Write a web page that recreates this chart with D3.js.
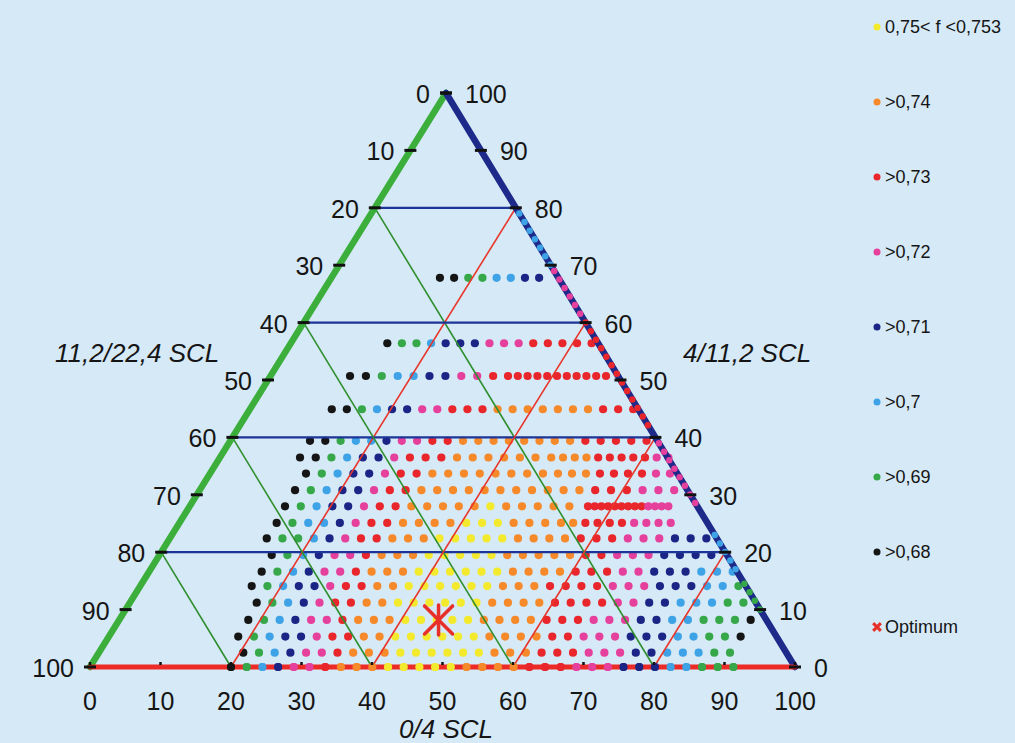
<!DOCTYPE html>
<html><head><meta charset="utf-8">
<script src="https://cdn.jsdelivr.net/npm/d3@7"></script>
<style>
body{margin:0;background:#d6e9f6;}
svg{display:block;}
text{font-family:"Liberation Sans",Arial,sans-serif;fill:#151515;}
</style>
</head><body><svg id="chart" width="1015" height="743"></svg>
<script>
// ---------------- data ----------------
const categoryLabels = ["0,75< f <0,753", ">0,74", ">0,73", ">0,72", ">0,71", ">0,7", ">0,69", ">0,68"];
const categoryCodes  = ["Y", "O", "R", "P", "N", "L", "G", "K"];
const axisTicks = [0, 10, 20, 30, 40, 50, 60, 70, 80, 90, 100];
const gridValues = [20, 40, 60, 80];
const axisTitles = ["11,2/22,4 SCL", "4/11,2 SCL", "0/4 SCL"];

// point rows: right-axis value (c), first bottom value (b), step in b, category codes
const rowC    = [67.8, 56.4, 50.7, 50.7, 44.9, 39.4, 36.5, 36.5, 33.7, 33.7, 30.8, 28.0, 28.0, 25.1, 25.1, 22.4, 19.5, 16.6, 14.1, 11.2, 8.2, 5.3, 2.5, 0];
const rowB0   = [15.40, 13.69, 11.28, 33.69, 11.62, 11.31, 11.36, 48.67, 13.62, 49.36, 13.53, 13.52, 56.5, 13.80, 54.13, 13.76, 15.93, 15.97, 15.82, 17.99, 18.31, 18.35, 20.48, 20.0];
const rowStep = [2.01, 2.07, 2.255, 1.39, 2.138, 2.17, 2.227, 1.66, 2.241, 1.986, 2.241, 2.241, 0.95, 2.241, 1.73, 2.227, 2.227, 2.227, 2.227, 2.227, 2.227, 2.227, 2.227, 2.227];
const rowCodes = [
  "KKGGLLNN",
  "KGGLNNNPPPRRRRR",
  "KKGLLNNPPR",
  "RRRRRRRRRRR",
  "KKGLNNPPRRROOOOOOORRR",
  "KKGLLNPPRROOOOOOOORRRRR",
  "KKGLNNPRRROOOOOOO",
  "OOORRRRRPP",
  "KGLNNPRROOOOOOOO",
  "OOORRRRPP",
  "KGLNNPRROOOOOOOOOOORRRPPP",
  "KGLNNPRROOOOOYOOOOO",
  "RRRRRRRRRPPPP",
  "KGLLNPRROOOOYYYOOO",
  "OORRRRPPPP",
  "KGGLNPRROOOYYYYYOOOORRRPPPNNN",
  "KGLNPPROOOYYYYYOOOOORRPPPNNNN",
  "KGLNPPROOOYYYYYYOOOORRRPPNNNLLL",
  "KGLNNPRROOYYYYYYOOORRRRPPPNNNLLG",
  "KGLNPRROOYYYYYYOOOORRRRPPNNLLLGG",
  "KGLNPPROOOYYYYYOOOORRRPPPNNLLGGGK",
  "KGLNNPRROOYYYYYYOOOORRPPPNNNLLGGK",
  "KGLNPPROOOYYYYYYOOORRRPPPNNLLLGG",
  "KGLNPPROOOYYYYYOOOORRRPPPNNNLLGGG"
];

// points lying on the right edge (b + c = 100): c range and category
const edgeFrom  = [79, 69, 60, 39, 23, 14.5];
const edgeTo    = [70, 61, 42, 28, 16, 10];
const edgeCodes = ["L", "P", "R", "P", "L", "G"];

const optimumB = 45.3, optimumC = 8.2;

// ---------------- styles ----------------
const colorOf = {Y:"#f3ea2e", O:"#f6892a", R:"#e8262b", P:"#e5409c", N:"#1b2585", L:"#3ea3e6", G:"#36a84a", K:"#151515"};

// ---------------- scales ----------------
const svg = d3.select("#chart");
const xScale = d3.scaleLinear().domain([0, 100]).range([90, 795]);   // bottom axis
const yScale = d3.scaleLinear().domain([0, 100]).range([667, 93]);   // right axis height
const lean   = d3.scaleLinear().domain([0, 100]).range([0, 356]);    // horizontal lean toward apex
const P = (b, c) => [xScale(b) + lean(c), yScale(c)];

svg.append("rect").attr("width", 1015).attr("height", 743).attr("fill", "#d6e9f6");

// ---------------- dots ----------------
const dots = [];
rowC.forEach((c, i) => {
  rowCodes[i].split("").forEach((code, k) => {
    dots.push({b: rowB0[i] + k * rowStep[i], c: c, code: code});
  });
});
const gDots = svg.append("g");
gDots.selectAll("circle").data(dots).join("circle")
  .attr("cx", d => P(d.b, d.c)[0])
  .attr("cy", d => P(d.b, d.c)[1])
  .attr("r", 4.1)
  .attr("fill", d => colorOf[d.code]);

// ---------------- grid lines ----------------
const line = d3.line();
const gGrid = svg.append("g").attr("fill", "none");
gridValues.forEach(v => {
  gGrid.append("path").attr("d", line([P(0, v), P(100 - v, v)])).attr("stroke", "#1d3597").attr("stroke-width", 2.2);
  gGrid.append("path").attr("d", line([P(0, 100 - v), P(100 - v, 0)])).attr("stroke", "#2f8f2f").attr("stroke-width", 1.6);
  gGrid.append("path").attr("d", line([P(v, 100 - v), P(v, 0)])).attr("stroke", "#e8352a").attr("stroke-width", 1.6);
});

// ---------------- axes ----------------
const gAx = svg.append("g").attr("fill", "none").attr("stroke-linecap", "round");
gAx.append("path").attr("d", line([P(0, 0), P(0, 100)])).attr("stroke", "#3bae3b").attr("stroke-width", 6.5);
gAx.append("path").attr("d", line([P(0, 100), P(100, 0)])).attr("stroke", "#1d2a8a").attr("stroke-width", 6.5);
gAx.append("path").attr("d", line([P(0, 0), P(100, 0)])).attr("stroke", "#ec2b26").attr("stroke-width", 5);

// edge points (dotted on the right side)
edgeFrom.forEach((f, i) => {
  svg.append("path").attr("d", line([P(100 - f, f), P(100 - edgeTo[i], edgeTo[i])]))
    .attr("fill", "none").attr("stroke", colorOf[edgeCodes[i]]).attr("stroke-width", 6.5)
    .attr("stroke-linecap", "round").attr("stroke-dasharray", "0 10");
});

// bottom row on the bottom line drawn above the axis
const bottomDots = dots.filter(d => d.c === 0);
svg.append("g").selectAll("circle").data(bottomDots).join("circle")
  .attr("cx", d => P(d.b, d.c)[0]).attr("cy", d => P(d.b, d.c)[1])
  .attr("r", 4.1).attr("fill", d => colorOf[d.code]);

// tick marks
const gT = svg.append("g").attr("stroke", "#111").attr("stroke-width", 3);
axisTicks.forEach(t => {
  const l = P(0, 100 - t);
  gT.append("line").attr("x1", l[0] - 6).attr("x2", l[0] + 6).attr("y1", l[1]).attr("y2", l[1]);
  const r = P(100 - t, t);
  gT.append("line").attr("x1", r[0] - 6).attr("x2", r[0] + 6).attr("y1", r[1]).attr("y2", r[1]);
  const bt = P(t, 0);
  gT.append("line").attr("x1", bt[0]).attr("x2", bt[0]).attr("y1", bt[1] - 5).attr("y2", bt[1] - 2).attr("stroke-width", 2.5);
});

// ---------------- labels ----------------
const gL = svg.append("g").style("font-size", "25px");
axisTicks.forEach(t => {
  const l = P(0, 100 - t);
  gL.append("text").attr("x", l[0] - 16).attr("y", l[1] + 10).attr("text-anchor", "end").text(t);
  const r = P(100 - t, t);
  gL.append("text").attr("x", r[0] + 19).attr("y", r[1] + 10).attr("text-anchor", "start").text(t);
  const bt = P(t, 0);
  gL.append("text").attr("x", bt[0]).attr("y", 710).attr("text-anchor", "middle").text(t);
});
const gTi = svg.append("g").style("font-size", "26px").style("font-style", "italic");
gTi.append("text").attr("x", 55).attr("y", 362).text(axisTitles[0]);
gTi.append("text").attr("x", 683).attr("y", 362).text(axisTitles[1]);
gTi.append("text").attr("x", 446).attr("y", 738).attr("text-anchor", "middle").text(axisTitles[2]);

// ---------------- optimum ----------------
const op = P(optimumB, optimumC);
const gOp = svg.append("g").attr("stroke", "#e8302a").attr("stroke-width", 3.5).attr("stroke-linecap", "round");
[[0, 15], [14, 14], [-14, 14]].forEach(([dx, dy]) => {
  gOp.append("line").attr("x1", op[0] - dx).attr("y1", op[1] - dy).attr("x2", op[0] + dx).attr("y2", op[1] + dy);
});

// ---------------- legend ----------------
const legendY = d3.scalePoint().domain(d3.range(9)).range([27, 627]);
const gLeg = svg.append("g").style("font-size", "18px");
categoryCodes.forEach((code, i) => {
  const y = legendY(i);
  gLeg.append("circle").attr("cx", 877).attr("cy", y).attr("r", 3.5).attr("fill", colorOf[code]);
  gLeg.append("text").attr("x", 885).attr("y", y + 6).text(categoryLabels[i]);
});
const yo = legendY(8);
gLeg.append("path").attr("d", d3.symbol().type(d3.symbolTimes).size(40)())
  .attr("transform", `translate(877,${yo})`).attr("fill", "none").attr("stroke", "#e8302a").attr("stroke-width", 3);
gLeg.append("text").attr("x", 885).attr("y", yo + 6).text("Optimum");
</script>
</body></html>
